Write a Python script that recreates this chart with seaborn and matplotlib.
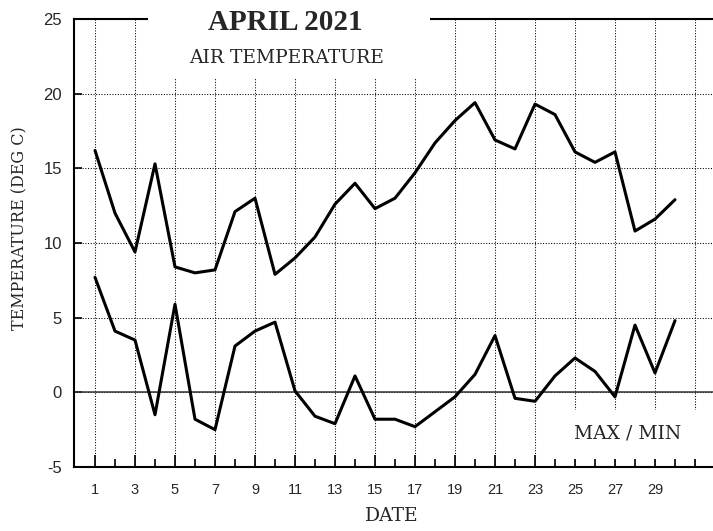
import numpy as np
import pandas as pd
import seaborn as sns
import matplotlib
matplotlib.use("Agg")
import matplotlib.pyplot as plt
from matplotlib.patches import Rectangle

# daily air temperature, April 2021 (deg C)
days = list(range(1, 31))
t_max = [16.2, 12.0, 9.4, 15.3, 8.4, 8.0, 8.2, 12.1, 13.0, 7.9,
         9.0, 10.4, 12.6, 14.0, 12.3, 13.0, 14.7, 16.7, 18.2, 19.4,
         16.9, 16.3, 19.3, 18.6, 16.1, 15.4, 16.1, 10.8, 11.6, 12.9]
t_min = [7.7, 4.1, 3.5, -1.5, 5.9, -1.8, -2.5, 3.1, 4.1, 4.7,
         0.1, -1.6, -2.1, 1.1, -1.8, -1.8, -2.3, -1.3, -0.3, 1.2,
         3.8, -0.4, -0.6, 1.1, 2.3, 1.4, -0.3, 4.5, 1.3, 4.8]
x_major = list(range(1, 32, 2))
x_minor = list(range(2, 32, 2))
x_labels = [str(d) for d in range(1, 30, 2)] + [""]
y_ticks = [-5, 0, 5, 10, 15, 20, 25]

df = pd.DataFrame({"DATE": days * 2,
                   "TEMP": t_max + t_min,
                   "kind": ["max"] * 30 + ["min"] * 30})

sns.set_style("ticks")
plt.rcParams["font.family"] = ["Liberation Sans", "DejaVu Sans"]

W, H = 713, 531
fig = plt.figure(figsize=(W / 100, H / 100), dpi=100)
ax = fig.add_axes([74 / W, 1 - 467 / H, 639 / W, 448 / H])

sns.lineplot(data=df, x="DATE", y="TEMP", units="kind", estimator=None,
             color="black", linewidth=2.2, ax=ax, legend=False)
ax.axhline(0, color="#333333", linewidth=1.1, zorder=1.9)

ax.set_xlim(-0.05, 31.9)
ax.set_ylim(-5, 25)
ax.set_xticks(x_major)
ax.set_xticklabels(x_labels)
ax.set_xticks(x_minor, minor=True)
ax.set_yticks(y_ticks)
ax.set_yticklabels([str(v) for v in y_ticks])
ax.tick_params(axis="x", which="major", direction="in", length=8.6, width=1.2,
               pad=11.5, labelsize=10.5, color="black")
ax.tick_params(axis="x", which="minor", direction="in", length=5.8, width=1.2,
               color="black")
ax.tick_params(axis="y", direction="in", length=5.8, width=1.2, pad=8.6,
               labelsize=12, color="black")
ax.grid(True, which="major", color="black", linewidth=0.75,
        linestyle=(0, (1, 1.6)))
ax.set_xlabel("")
ax.set_ylabel("")

for s in ["left", "bottom", "top"]:
    ax.spines[s].set_linewidth(1.5)
    ax.spines[s].set_color("black")
ax.spines["right"].set_visible(False)

# white panels behind the title block and the MAX / MIN note
ax.add_patch(Rectangle((148 / W, 1 - 79 / H), (430 - 148) / W, 79 / H,
                       transform=fig.transFigure, facecolor="white",
                       edgecolor="none", zorder=2.6, clip_on=False))
ax.add_patch(Rectangle((545 / W, 1 - 459 / H), (W - 545) / W, 49 / H,
                       transform=fig.transFigure, facecolor="white",
                       edgecolor="none", zorder=2.6, clip_on=False))

fig.text(285 / W, 1 - 22 / H, "APRIL 2021", ha="center", va="center",
         family="Liberation Serif", fontweight="bold", fontsize=21)
fig.text(287 / W, 1 - 58 / H, "AIR TEMPERATURE", ha="center", va="center",
         family="DejaVu Serif", fontsize=13.5)
fig.text(628 / W, 1 - 433 / H, "MAX / MIN", ha="center", va="center",
         family="DejaVu Serif", fontsize=13.5)
fig.text(392 / W, 1 - 516 / H, "DATE", ha="center", va="center",
         family="DejaVu Serif", fontsize=13.5)
fig.text(20 / W, 1 - 228 / H, "TEMPERATURE (DEG C)", ha="center",
         va="center", rotation=90, family="DejaVu Serif", fontsize=11.5)

fig.savefig("out.png", dpi=100)
